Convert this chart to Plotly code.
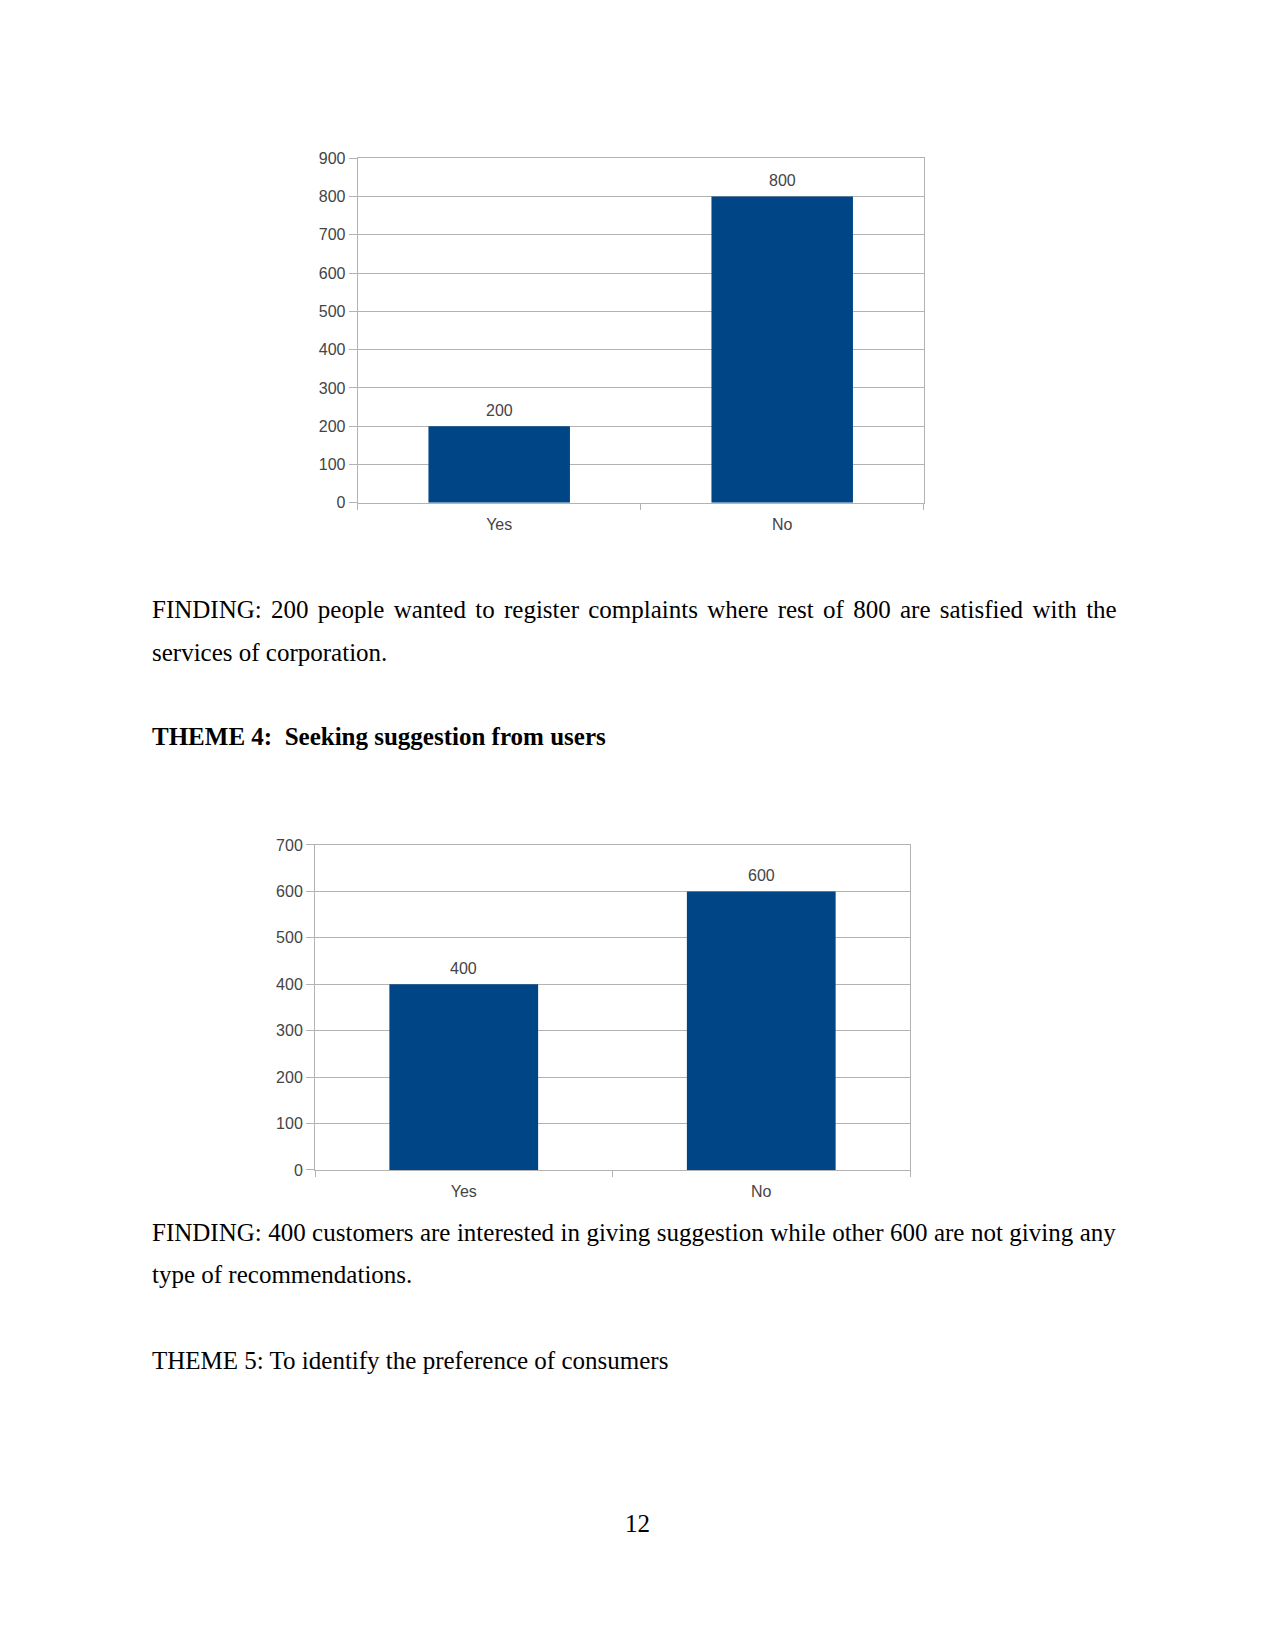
import plotly.graph_objects as go

# Data
categories1 = ["Yes", "No"]
values1 = [200, 800]
categories2 = ["Yes", "No"]
values2 = [400, 600]

y1_ticks = [0, 100, 200, 300, 400, 500, 600, 700, 800, 900]
y2_ticks = [0, 100, 200, 300, 400, 500, 600, 700]

W, H = 1275, 1650
BAR = "#004586"
GRID = "#b3b3b3"
TXT = "#444444"
SANS = "Liberation Sans, Arial, sans-serif"
SERIF = "Liberation Serif, Times New Roman, serif"

def px_x(x):
    return x / W

def px_y(y):
    return 1 - y / H

fig = go.Figure()
fig.add_trace(go.Bar(x=categories1, y=values1, marker=dict(color=BAR, line=dict(width=0)),
                     xaxis="x", yaxis="y"))
fig.add_trace(go.Bar(x=categories2, y=values2, marker=dict(color=BAR, line=dict(width=0)),
                     xaxis="x2", yaxis="y2"))

# value labels above bars
for cats, vals, xr, yr in [(categories1, values1, "x", "y"), (categories2, values2, "x2", "y2")]:
    for c, v in zip(cats, vals):
        fig.add_annotation(x=c, y=v, xref=xr, yref=yr, text=str(v), showarrow=False,
                           yanchor="middle", yshift=15.5,
                           font=dict(family=SANS, size=16, color=TXT))

common_x = dict(showline=True, linecolor=GRID, linewidth=1, mirror=True, showgrid=False,
                ticks="outside", tickson="boundaries", ticklen=6, tickcolor=GRID,
                ticklabelstandoff=7,
                tickfont=dict(family=SANS, size=16, color=TXT), fixedrange=True)
common_y = dict(showline=True, linecolor=GRID, linewidth=1, mirror=True, showgrid=True,
                gridcolor=GRID, gridwidth=1, ticks="outside", ticklen=8, tickcolor=GRID,
                tickfont=dict(family=SANS, size=16, color=TXT), zeroline=False, dtick=100)

fig.update_layout(
    width=W, height=H, margin=dict(l=0, r=0, t=0, b=0),
    paper_bgcolor="white", plot_bgcolor="white", showlegend=False,
    bargap=0.5,
    xaxis=dict(domain=[px_x(357.7), px_x(923.7)], anchor="y", **common_x),
    yaxis=dict(domain=[px_y(500), px_y(151.7)], anchor="x", range=[0, 900],
               tickvals=y1_ticks, **common_y),
    xaxis2=dict(domain=[px_x(315), px_x(910)], anchor="y2", **common_x),
    yaxis2=dict(domain=[px_y(1174), px_y(845.7)], anchor="x2", range=[0, 700],
                tickvals=y2_ticks, **common_y),
)

texts = [
    ("FINDING: 200 people wanted to register complaints where rest of 800 are satisfied with the", 608, False, 3.05),
    ("services of corporation.", 651, False, 0),
    ("THEME 4:  Seeking suggestion from users", 736, True, 0),
    ("FINDING: 400 customers are interested in giving suggestion while other 600 are not giving any", 1237.5, False, 0.2),
    ("type of recommendations.", 1280, False, 0),
    ("THEME 5: To identify the preference of consumers", 1366.5, False, 0),
]
for t, y, bold, ws in texts:
    s = f"<b>{t}</b>" if bold else t
    if ws:
        s = f'<span style="word-spacing:{ws}px">{s}</span>'
    fig.add_annotation(text=s, xref="paper", yref="paper",
                       x=px_x(150), y=px_y(y), xanchor="left", yanchor="middle",
                       showarrow=False, font=dict(family=SERIF, size=25, color="black"))

fig.add_annotation(text="12", xref="paper", yref="paper", x=px_x(637), y=px_y(1531),
                   xanchor="center", yanchor="middle", showarrow=False,
                   font=dict(family=SERIF, size=25, color="black"))

fig.write_html("out.html")
